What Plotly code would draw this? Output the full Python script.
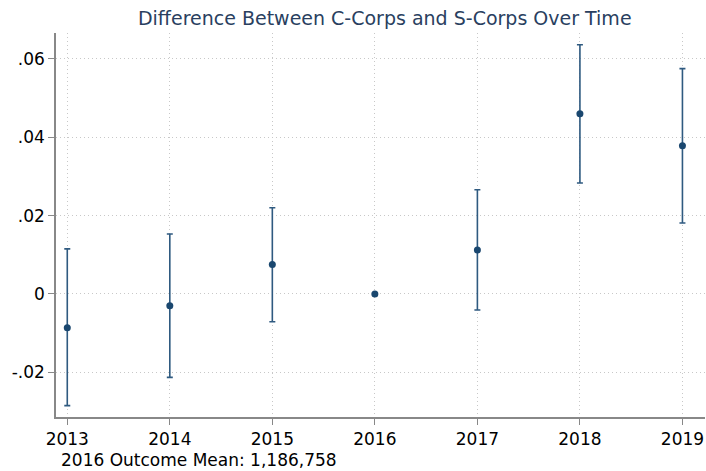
import plotly.graph_objects as go

years = [2013, 2014, 2015, 2016, 2017, 2018, 2019]
coef = [-0.0086, -0.0030, 0.0075, 0.0, 0.0112, 0.0460, 0.0378]
ci_upper = [0.0115, 0.0153, 0.0220, 0.0, 0.0266, 0.0636, 0.0575]
ci_lower = [-0.0285, -0.0213, -0.0071, 0.0, -0.0041, 0.0283, 0.0181]
ytick_vals = [-0.02, 0.0, 0.02, 0.04, 0.06]
ytick_text = ["-.02", "0", ".02", ".04", ".06"]
note = "2016 Outcome Mean: 1,186,758"

navy = "#1a476f"
err_plus = [u - c for u, c in zip(ci_upper, coef)]
err_minus = [c - l for c, l in zip(coef, ci_lower)]

fig = go.Figure()
fig.add_trace(go.Scatter(
    x=years, y=coef, mode="markers",
    marker=dict(color=navy, size=7),
    error_y=dict(type="data", symmetric=False, array=err_plus, arrayminus=err_minus,
                 color="#2f5a80", thickness=1.6, width=3),
    showlegend=False,
))

grid = dict(showgrid=True, gridcolor="#c8c8c8", griddash="1px,3px", gridwidth=1,
            showline=True, linecolor="#888888", linewidth=1.5,
            ticks="outside", ticklen=6, tickcolor="#888888", zeroline=False)

fig.update_layout(
    width=706, height=471,
    margin=dict(l=56, r=1, t=33, b=54),
    paper_bgcolor="white", plot_bgcolor="white",
    font=dict(family="DejaVu Sans", size=17, color="black"),
    title=dict(text="Difference Between C-Corps and S-Corps Over Time",
               x=0.545, xanchor="center", y=0.962, yanchor="middle",
               font=dict(size=19, color="#2a3f5f")),
    xaxis=dict(range=[2012.89, 2019.22], tickvals=years, ticktext=[str(y) for y in years], **grid),
    yaxis=dict(range=[-0.0314, 0.0666], tickvals=ytick_vals, ticktext=ytick_text, **grid),
    annotations=[dict(text=note, xref="paper", yref="paper", x=0.005, y=-0.112,
                      xanchor="left", yanchor="middle", showarrow=False,
                      font=dict(size=17, color="black"))],
)

fig.write_html("out.html", config={"displayModeBar": False},
               post_script="document.body.style.margin='0';document.body.style.overflow='hidden';")
